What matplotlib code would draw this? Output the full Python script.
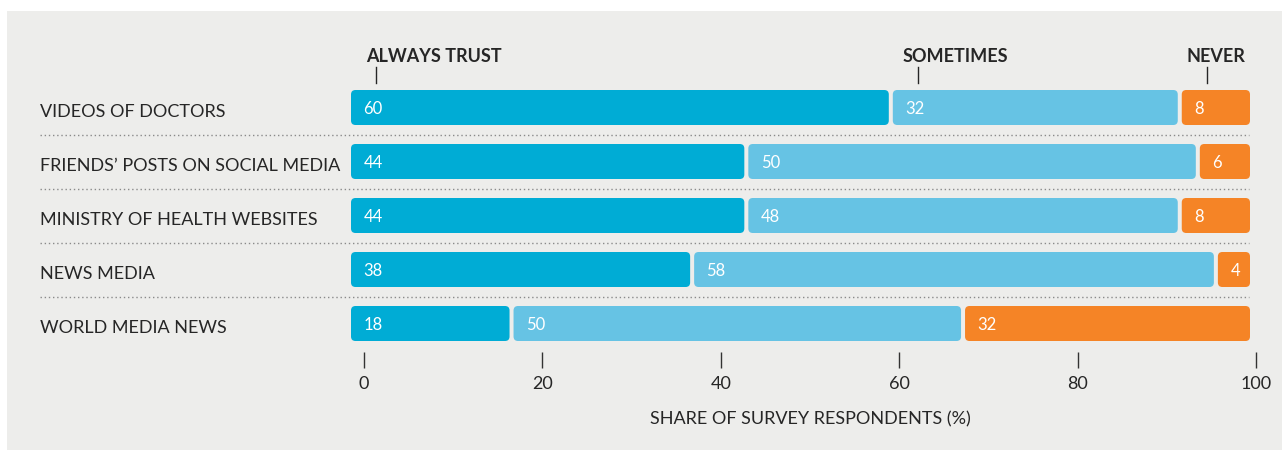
import matplotlib.pyplot as plt
from matplotlib.patches import FancyBboxPatch, Rectangle
from matplotlib.transforms import blended_transform_factory

# Data
categories = [
    "VIDEOS OF DOCTORS",
    "FRIENDS\u2019 POSTS ON SOCIAL MEDIA",
    "MINISTRY OF HEALTH WEBSITES",
    "NEWS MEDIA",
    "WORLD MEDIA NEWS",
]
always = [60, 44, 44, 38, 18]
sometimes = [32, 50, 48, 58, 50]
never = [8, 6, 8, 4, 32]
series_names = ["ALWAYS TRUST", "SOMETIMES", "NEVER"]
ticks = [0, 20, 40, 60, 80, 100]

colors = ["#00acd5", "#66c3e4", "#f58426"]
text_col = "#262626"
bg = "#ededeb"

plt.rcParams["font.family"] = ["Lato", "DejaVu Sans"]

W, H = 1282, 450
fig = plt.figure(figsize=(W / 100, H / 100), dpi=100)
fig.patch.set_facecolor("white")
fig.add_artist(Rectangle((7 / W, 0), 1 - 7 / W, 1 - 11 / H,
                         transform=fig.transFigure, facecolor=bg,
                         edgecolor="none", zorder=0))

# main bar axes: rows 54 px apart
x0, x1 = 349, 1252
ytop, ybot = 80.5, 350.5
ax = fig.add_axes([x0 / W, 1 - ybot / H, (x1 - x0) / W, (ybot - ytop) / H])
ax.set_facecolor("none")
ax.set_xlim(0, 100)
ax.set_ylim(len(categories) - 0.5, -0.5)
ax.axis("off")

pxx = (x1 - x0) / 100
pxy = (ybot - ytop) / len(categories)
bar_h = 35 / pxy
half_gap = 2 / pxx
head_dx = [1.9, 1.3, 0.7]

for i in range(len(categories)):
    vals = [always[i], sometimes[i], never[i]]
    start = 0
    for j, v in enumerate(vals):
        box = FancyBboxPatch((start + half_gap, i - bar_h / 2), v - 2 * half_gap,
                             bar_h, boxstyle="round,pad=0,rounding_size=0.5",
                             mutation_aspect=pxx / pxy,
                             facecolor=colors[j], edgecolor="none", zorder=2)
        ax.add_patch(box)
        ax.text(start + 1.6, i + 6.5 / pxy, str(v), color="white",
                fontsize=12, va="baseline", ha="left", zorder=3)
        if i == 0:
            ax.plot([start + 3, start + 3], [-24.5 / pxy, -40.5 / pxy],
                    color=text_col, lw=1, clip_on=False)
            ax.text(start + head_dx[j], -45.5 / pxy, series_names[j],
                    color=text_col, fontsize=13, fontweight="bold",
                    va="baseline", ha="left", clip_on=False)
        start += v

# category labels and dotted separators
trans = blended_transform_factory(fig.transFigure, ax.transData)
for i, cat in enumerate(categories):
    ax.text(40 / W, i + 9.5 / pxy, cat, transform=trans, color=text_col,
            fontsize=13, va="baseline", ha="left")
    if i < len(categories) - 1:
        ax.plot([40 / W, 1249 / W], [i + 0.5, i + 0.5], transform=trans,
                color="#8a8a8a", lw=1, ls=(0, (1, 2)), clip_on=False)

# x axis scale (drawn slightly offset, as in the original)
ax2 = fig.add_axes([364 / W, 1 - 352 / H, (1256 - 364) / W, 0.001])
ax2.set_facecolor("none")
ax2.set_xlim(0, 100)
ax2.set_xticks(ticks)
ax2.set_xticklabels([str(t) for t in ticks])
ax2.set_yticks([])
for s in ax2.spines.values():
    s.set_visible(False)
ax2.tick_params(axis="x", direction="out", length=11.5, width=1,
                color="#333333", labelsize=13, labelcolor=text_col, pad=6)
ax2.set_xlabel("SHARE OF SURVEY RESPONDENTS (%)", fontsize=13,
               color=text_col, labelpad=14)

fig.savefig("out.png", dpi=100, facecolor=fig.get_facecolor())
